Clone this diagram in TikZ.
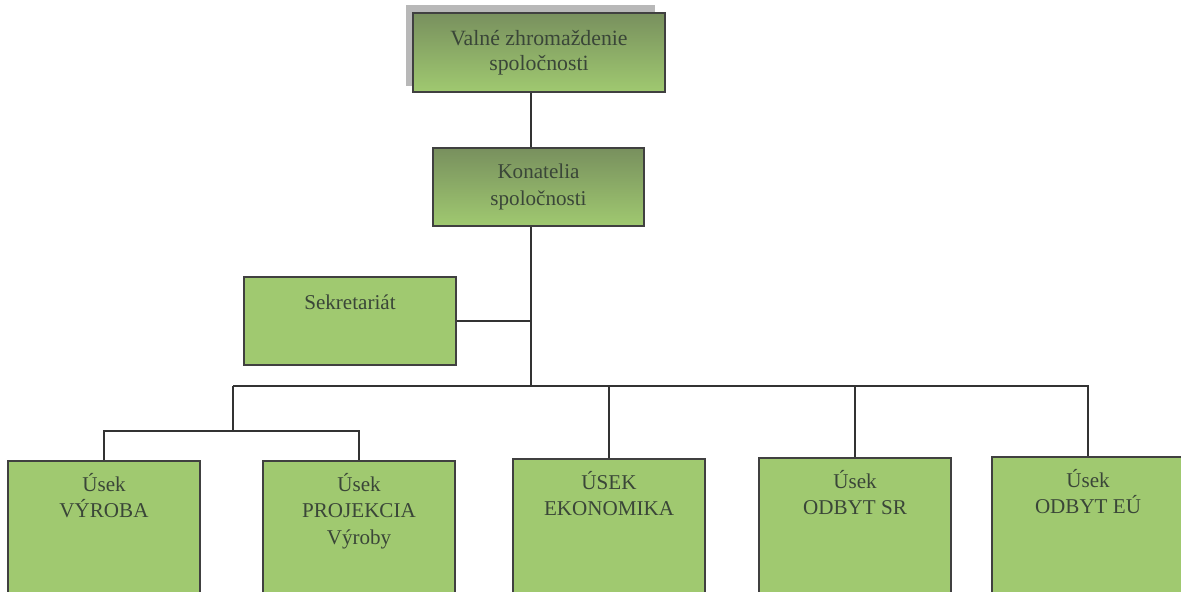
\documentclass[tikz,border=0pt]{standalone}
\usepackage{fontspec}
\setmainfont{Liberation Serif}
\definecolor{boxgreen}{RGB}{160,201,112}
\definecolor{darkolive}{RGB}{120,144,94}
\definecolor{inkgrey}{RGB}{58,70,56}

\begin{document}
\begin{tikzpicture}[x=0.02cm, y=-0.02cm, font=\fontsize{12}{15}\selectfont]
    \tikzstyle{edge}=[draw,line width=1pt,-,black!80]
    \tikzstyle{unit}=[draw=black!75,line width=1pt,fill=boxgreen,text=inkgrey,align=center,inner sep=0pt]
    \tikzstyle{headunit}=[unit,top color=darkolive,bottom color=boxgreen]
    \tikzstyle{dept}=[unit,anchor=north,minimum width=3.84cm,minimum height=3.4cm]
    \tikzstyle{caption}=[anchor=north,align=center,text=inkgrey,yshift=-4pt]
    \useasboundingbox (0,0) rectangle (1181,592);
    \clip (0,0) rectangle (1181,592);
    % shadow behind the top box
    \fill[black!28] (406,5) rectangle (655,86);
    \node[headunit,minimum width=5.04cm,minimum height=1.58cm,font=\fontsize{12.4}{14}\selectfont] (valne) at (539,52.5) {Valné zhromaždenie\\spoločnosti};
    \node[headunit,minimum width=4.22cm,minimum height=1.56cm] (konat) at (538.5,187) {Konatelia\\spoločnosti};
    \node[unit,minimum width=4.24cm,minimum height=1.76cm,label={[caption,yshift=-3pt]north:Sekretariát}] (sekret) at (350,321) {};
    % departments
    \node[dept,label={[caption]north:Úsek\\VÝROBA}] (vyr) at (104,460) {};
    \node[dept,label={[caption]north:Úsek\\PROJEKCIA\\Výroby}] (proj) at (359,460) {};
    \node[dept,label={[caption]north:ÚSEK\\EKONOMIKA}] (ekon) at (609,458) {};
    \node[dept,label={[caption]north:Úsek\\ODBYT SR}] (odsr) at (855,457) {};
    \node[dept,label={[caption]north:Úsek\\ODBYT EÚ}] (odeu) at (1088,456) {};
    \coordinate (trunk) at (531,386);
    \coordinate (fork) at (233,386);
    \coordinate (split) at (233,431);
    \draw[edge] (valne.south -| trunk) -- (konat.north -| trunk);
    \draw[edge] (konat.south -| trunk) -- (trunk);
    \draw[edge] (sekret.east) -- (sekret.east -| trunk);
    \draw[edge] (fork) -- (odeu.north |- fork) -- (odeu.north);
    \draw[edge] (ekon.north) -- (ekon.north |- fork);
    \draw[edge] (odsr.north) -- (odsr.north |- fork);
    \draw[edge] (fork) -- (split);
    \draw[edge] (vyr.north) -- (vyr.north |- split) -- (proj.north |- split) -- (proj.north);
\end{tikzpicture}
\end{document}
